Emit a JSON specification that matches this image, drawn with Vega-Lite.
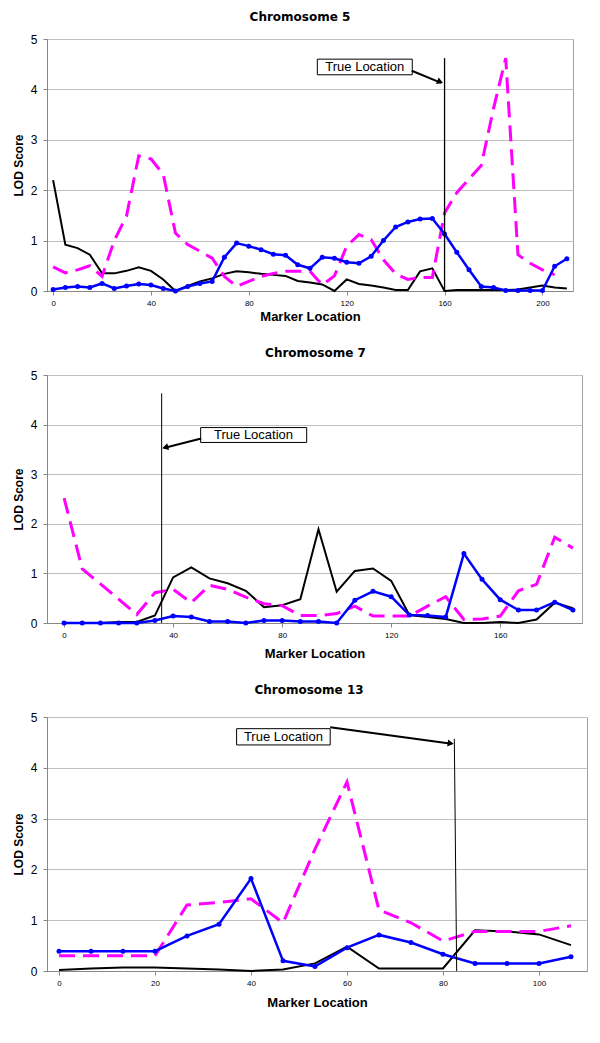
{
  "$schema": "https://vega.github.io/schema/vega-lite/v6.json",
  "padding": {"left": 11, "top": 10, "right": 5, "bottom": 5},
  "background": "white",
  "spacing": 22,
  "datasets": {
    "c5": [
      {"x":0,"s":"k","lod":2.2},{"x":5,"s":"k","lod":0.92},{"x":10,"s":"k","lod":0.85},{"x":15,"s":"k","lod":0.72},{"x":20,"s":"k","lod":0.35},{"x":25,"s":"k","lod":0.35},{"x":30,"s":"k","lod":0.4},{"x":35,"s":"k","lod":0.47},{"x":40,"s":"k","lod":0.4},{"x":45,"s":"k","lod":0.23},{"x":50,"s":"k","lod":0.0},{"x":55,"s":"k","lod":0.1},{"x":60,"s":"k","lod":0.19},{"x":65,"s":"k","lod":0.25},{"x":70,"s":"k","lod":0.34},{"x":75,"s":"k","lod":0.39},{"x":80,"s":"k","lod":0.37},{"x":85,"s":"k","lod":0.34},{"x":90,"s":"k","lod":0.32},{"x":95,"s":"k","lod":0.3},{"x":100,"s":"k","lod":0.2},{"x":105,"s":"k","lod":0.17},{"x":110,"s":"k","lod":0.13},{"x":115,"s":"k","lod":0.0},{"x":120,"s":"k","lod":0.23},{"x":125,"s":"k","lod":0.14},{"x":130,"s":"k","lod":0.11},{"x":135,"s":"k","lod":0.07},{"x":140,"s":"k","lod":0.02},{"x":145,"s":"k","lod":0.02},{"x":150,"s":"k","lod":0.39},{"x":155,"s":"k","lod":0.45},{"x":160,"s":"k","lod":0.0},{"x":165,"s":"k","lod":0.02},{"x":170,"s":"k","lod":0.02},{"x":175,"s":"k","lod":0.02},{"x":180,"s":"k","lod":0.02},{"x":185,"s":"k","lod":0.02},{"x":190,"s":"k","lod":0.03},{"x":195,"s":"k","lod":0.07},{"x":200,"s":"k","lod":0.11},{"x":205,"s":"k","lod":0.07},{"x":210,"s":"k","lod":0.05},
      {"x":0,"s":"m","lod":0.48},{"x":5,"s":"m","lod":0.36},{"x":10,"s":"m","lod":0.42},{"x":15,"s":"m","lod":0.5},{"x":20,"s":"m","lod":0.29},{"x":25,"s":"m","lod":1.0},{"x":30,"s":"m","lod":1.49},{"x":35,"s":"m","lod":2.68},{"x":40,"s":"m","lod":2.62},{"x":45,"s":"m","lod":2.32},{"x":50,"s":"m","lod":1.15},{"x":55,"s":"m","lod":0.92},{"x":60,"s":"m","lod":0.79},{"x":65,"s":"m","lod":0.65},{"x":70,"s":"m","lod":0.29},{"x":75,"s":"m","lod":0.09},{"x":80,"s":"m","lod":0.19},{"x":85,"s":"m","lod":0.29},{"x":90,"s":"m","lod":0.35},{"x":95,"s":"m","lod":0.39},{"x":100,"s":"m","lod":0.39},{"x":105,"s":"m","lod":0.39},{"x":110,"s":"m","lod":0.12},{"x":115,"s":"m","lod":0.3},{"x":120,"s":"m","lod":0.89},{"x":125,"s":"m","lod":1.12},{"x":130,"s":"m","lod":1.02},{"x":135,"s":"m","lod":0.62},{"x":140,"s":"m","lod":0.34},{"x":145,"s":"m","lod":0.23},{"x":150,"s":"m","lod":0.27},{"x":155,"s":"m","lod":0.27},{"x":160,"s":"m","lod":1.55},{"x":165,"s":"m","lod":1.95},{"x":170,"s":"m","lod":2.22},{"x":175,"s":"m","lod":2.49},{"x":180,"s":"m","lod":3.62},{"x":185,"s":"m","lod":4.62},{"x":190,"s":"m","lod":0.72},{"x":195,"s":"m","lod":0.55},{"x":200,"s":"m","lod":0.42},{"x":205,"s":"m","lod":0.32},
      {"x":0,"s":"b","lod":0.03},{"x":5,"s":"b","lod":0.07},{"x":10,"s":"b","lod":0.09},{"x":15,"s":"b","lod":0.07},{"x":20,"s":"b","lod":0.15},{"x":25,"s":"b","lod":0.05},{"x":30,"s":"b","lod":0.1},{"x":35,"s":"b","lod":0.14},{"x":40,"s":"b","lod":0.12},{"x":45,"s":"b","lod":0.05},{"x":50,"s":"b","lod":0.0},{"x":55,"s":"b","lod":0.09},{"x":60,"s":"b","lod":0.15},{"x":65,"s":"b","lod":0.19},{"x":70,"s":"b","lod":0.67},{"x":75,"s":"b","lod":0.95},{"x":80,"s":"b","lod":0.89},{"x":85,"s":"b","lod":0.82},{"x":90,"s":"b","lod":0.73},{"x":95,"s":"b","lod":0.71},{"x":100,"s":"b","lod":0.52},{"x":105,"s":"b","lod":0.45},{"x":110,"s":"b","lod":0.67},{"x":115,"s":"b","lod":0.65},{"x":120,"s":"b","lod":0.57},{"x":125,"s":"b","lod":0.55},{"x":130,"s":"b","lod":0.69},{"x":135,"s":"b","lod":1.0},{"x":140,"s":"b","lod":1.27},{"x":145,"s":"b","lod":1.37},{"x":150,"s":"b","lod":1.43},{"x":155,"s":"b","lod":1.44},{"x":160,"s":"b","lod":1.13},{"x":165,"s":"b","lod":0.77},{"x":170,"s":"b","lod":0.42},{"x":175,"s":"b","lod":0.09},{"x":180,"s":"b","lod":0.07},{"x":185,"s":"b","lod":0.01},{"x":190,"s":"b","lod":0.01},{"x":195,"s":"b","lod":0.01},{"x":200,"s":"b","lod":0.01},{"x":205,"s":"b","lod":0.49},{"x":210,"s":"b","lod":0.64}
    ],
    "c7": [
      {"x":0,"s":"k","lod":0},{"x":6.67,"s":"k","lod":0},{"x":13.33,"s":"k","lod":0},{"x":20,"s":"k","lod":0.02},{"x":26.67,"s":"k","lod":0.02},{"x":33.33,"s":"k","lod":0.15},{"x":40,"s":"k","lod":0.92},{"x":46.67,"s":"k","lod":1.12},{"x":53.33,"s":"k","lod":0.9},{"x":60,"s":"k","lod":0.8},{"x":66.67,"s":"k","lod":0.65},{"x":73.33,"s":"k","lod":0.32},{"x":80,"s":"k","lod":0.36},{"x":86.67,"s":"k","lod":0.48},{"x":93.33,"s":"k","lod":1.89},{"x":100,"s":"k","lod":0.63},{"x":106.67,"s":"k","lod":1.05},{"x":113.33,"s":"k","lod":1.1},{"x":120,"s":"k","lod":0.85},{"x":126.67,"s":"k","lod":0.16},{"x":133.33,"s":"k","lod":0.12},{"x":140,"s":"k","lod":0.08},{"x":146.67,"s":"k","lod":0},{"x":153.33,"s":"k","lod":0},{"x":160,"s":"k","lod":0.02},{"x":166.67,"s":"k","lod":0},{"x":173.33,"s":"k","lod":0.07},{"x":180,"s":"k","lod":0.41},{"x":186.67,"s":"k","lod":0.3},
      {"x":0,"s":"m","lod":2.52},{"x":6.67,"s":"m","lod":1.09},{"x":13.33,"s":"m","lod":0.79},{"x":20,"s":"m","lod":0.48},{"x":26.67,"s":"m","lod":0.17},{"x":33.33,"s":"m","lod":0.61},{"x":40,"s":"m","lod":0.68},{"x":46.67,"s":"m","lod":0.41},{"x":53.33,"s":"m","lod":0.76},{"x":60,"s":"m","lod":0.68},{"x":66.67,"s":"m","lod":0.52},{"x":73.33,"s":"m","lod":0.39},{"x":80,"s":"m","lod":0.35},{"x":86.67,"s":"m","lod":0.15},{"x":93.33,"s":"m","lod":0.15},{"x":100,"s":"m","lod":0.19},{"x":106.67,"s":"m","lod":0.34},{"x":113.33,"s":"m","lod":0.14},{"x":120,"s":"m","lod":0.14},{"x":126.67,"s":"m","lod":0.14},{"x":133.33,"s":"m","lod":0.34},{"x":140,"s":"m","lod":0.53},{"x":146.67,"s":"m","lod":0.07},{"x":153.33,"s":"m","lod":0.08},{"x":160,"s":"m","lod":0.14},{"x":166.67,"s":"m","lod":0.65},{"x":173.33,"s":"m","lod":0.78},{"x":180,"s":"m","lod":1.73},{"x":186.67,"s":"m","lod":1.51},
      {"x":0,"s":"b","lod":0},{"x":6.67,"s":"b","lod":0},{"x":13.33,"s":"b","lod":0},{"x":20,"s":"b","lod":0},{"x":26.67,"s":"b","lod":0},{"x":33.33,"s":"b","lod":0.05},{"x":40,"s":"b","lod":0.14},{"x":46.67,"s":"b","lod":0.12},{"x":53.33,"s":"b","lod":0.03},{"x":60,"s":"b","lod":0.03},{"x":66.67,"s":"b","lod":0},{"x":73.33,"s":"b","lod":0.05},{"x":80,"s":"b","lod":0.05},{"x":86.67,"s":"b","lod":0.03},{"x":93.33,"s":"b","lod":0.03},{"x":100,"s":"b","lod":0},{"x":106.67,"s":"b","lod":0.46},{"x":113.33,"s":"b","lod":0.64},{"x":120,"s":"b","lod":0.53},{"x":126.67,"s":"b","lod":0.16},{"x":133.33,"s":"b","lod":0.15},{"x":140,"s":"b","lod":0.12},{"x":146.67,"s":"b","lod":1.4},{"x":153.33,"s":"b","lod":0.88},{"x":160,"s":"b","lod":0.47},{"x":166.67,"s":"b","lod":0.26},{"x":173.33,"s":"b","lod":0.26},{"x":180,"s":"b","lod":0.42},{"x":186.67,"s":"b","lod":0.26}
    ],
    "c13": [
      {"x":0,"s":"k","lod":0.02},{"x":6.67,"s":"k","lod":0.05},{"x":13.33,"s":"k","lod":0.07},{"x":20,"s":"k","lod":0.07},{"x":26.67,"s":"k","lod":0.05},{"x":33.33,"s":"k","lod":0.03},{"x":40,"s":"k","lod":0.0},{"x":46.67,"s":"k","lod":0.03},{"x":53.33,"s":"k","lod":0.15},{"x":60,"s":"k","lod":0.48},{"x":66.67,"s":"k","lod":0.05},{"x":73.33,"s":"k","lod":0.05},{"x":80,"s":"k","lod":0.05},{"x":86.67,"s":"k","lod":0.8},{"x":93.33,"s":"k","lod":0.78},{"x":100,"s":"k","lod":0.72},{"x":106.67,"s":"k","lod":0.51},
      {"x":0,"s":"m","lod":0.3},{"x":6.67,"s":"m","lod":0.3},{"x":13.33,"s":"m","lod":0.3},{"x":20,"s":"m","lod":0.3},{"x":26.67,"s":"m","lod":1.3},{"x":33.33,"s":"m","lod":1.35},{"x":40,"s":"m","lod":1.42},{"x":46.67,"s":"m","lod":0.95},{"x":53.33,"s":"m","lod":2.4},{"x":60,"s":"m","lod":3.72},{"x":66.67,"s":"m","lod":1.2},{"x":73.33,"s":"m","lod":0.95},{"x":80,"s":"m","lod":0.59},{"x":86.67,"s":"m","lod":0.78},{"x":93.33,"s":"m","lod":0.78},{"x":100,"s":"m","lod":0.78},{"x":106.67,"s":"m","lod":0.89},
      {"x":0,"s":"b","lod":0.39},{"x":6.67,"s":"b","lod":0.39},{"x":13.33,"s":"b","lod":0.39},{"x":20,"s":"b","lod":0.39},{"x":26.67,"s":"b","lod":0.69},{"x":33.33,"s":"b","lod":0.92},{"x":40,"s":"b","lod":1.82},{"x":46.67,"s":"b","lod":0.2},{"x":53.33,"s":"b","lod":0.09},{"x":60,"s":"b","lod":0.46},{"x":66.67,"s":"b","lod":0.71},{"x":73.33,"s":"b","lod":0.56},{"x":80,"s":"b","lod":0.33},{"x":86.67,"s":"b","lod":0.15},{"x":93.33,"s":"b","lod":0.15},{"x":100,"s":"b","lod":0.15},{"x":106.67,"s":"b","lod":0.28}
    ],
    "one": [{"id": 1}]
  },
  "vconcat": [
    {
      "width": 526, "height": 252,
      "title": {"text": "Chromosome 5", "offset": 9, "dx": -10},
      "layer": [
        {"data": {"name": "c5"}, "transform": [{"filter": "datum.s == 'k'"}], "mark": {"type": "line", "color": "#000000", "strokeWidth": 2},
         "encoding": {
          "x": {"field": "x", "type": "quantitative", "scale": {"domain": [-2.5, 212.5], "nice": false, "zero": false}, "axis": {"values": [0, 40, 80, 120, 160, 200], "title": "Marker Location", "titlePadding": 3}},
          "y": {"field": "lod", "type": "quantitative", "scale": {"domain": [0, 5], "nice": false}, "axis": {"values": [0, 1, 2, 3, 4, 5], "title": "LOD Score", "titlePadding": 5}}}},
        {"data": {"name": "c5"}, "transform": [{"filter": "datum.s == 'm'"}], "mark": {"type": "line", "color": "#ff00ff", "strokeWidth": 3, "strokeDash": [16, 8]},
         "encoding": {"x": {"field": "x", "type": "quantitative"}, "y": {"field": "lod", "type": "quantitative"}}},
        {"data": {"name": "c5"}, "transform": [{"filter": "datum.s == 'b'"}], "mark": {"type": "line", "color": "#0000ff", "strokeWidth": 2.5},
         "encoding": {"x": {"field": "x", "type": "quantitative"}, "y": {"field": "lod", "type": "quantitative"}}},
        {"data": {"name": "c5"}, "transform": [{"filter": "datum.s == 'b'"}], "mark": {"type": "point", "filled": true, "color": "#0000ff", "size": 25, "opacity": 1},
         "encoding": {"x": {"field": "x", "type": "quantitative"}, "y": {"field": "lod", "type": "quantitative"}}},
        {"data": {"name": "one"}, "mark": {"type": "rule", "color": "#000000", "strokeWidth": 1.3}, "encoding": {"x": {"datum": 160, "type": "quantitative"}, "y": {"datum": 0, "type": "quantitative"}, "y2": {"datum": 4.62}}},
        {"data": {"name": "one"}, "mark": {"type": "rect", "fill": "white", "stroke": "#000000", "strokeWidth": 1}, "encoding": {"x": {"datum": 108, "type": "quantitative"}, "x2": {"datum": 146.8}, "y": {"datum": 4.29, "type": "quantitative"}, "y2": {"datum": 4.6}}},
        {"data": {"name": "one"}, "mark": {"type": "text", "text": "True Location", "fontSize": 13, "font": "Liberation Sans", "align": "center", "baseline": "middle", "color": "#000000"}, "encoding": {"x": {"datum": 127.4, "type": "quantitative"}, "y": {"datum": 4.445, "type": "quantitative"}}},
        {"data": {"name": "one"}, "mark": {"type": "rule", "color": "#000000", "strokeWidth": 2}, "encoding": {"x": {"datum": 146.6, "type": "quantitative"}, "y": {"datum": 4.37, "type": "quantitative"}, "x2": {"datum": 158.6}, "y2": {"datum": 4.13}}},
        {"data": {"name": "one"}, "mark": {"type": "point", "shape": "triangle-right", "angle": 23, "filled": true, "color": "#000000", "size": 50, "opacity": 1}, "encoding": {"x": {"datum": 158.2, "type": "quantitative"}, "y": {"datum": 4.15, "type": "quantitative"}}}
      ]
    },
    {
      "width": 535, "height": 248,
      "title": {"text": "Chromosome 7", "offset": 9, "dx": 1},
      "layer": [
        {"data": {"name": "c7"}, "transform": [{"filter": "datum.s == 'k'"}], "mark": {"type": "line", "color": "#000000", "strokeWidth": 2},
         "encoding": {
          "x": {"field": "x", "type": "quantitative", "scale": {"domain": [-6.267, 190], "nice": false, "zero": false}, "axis": {"values": [0, 40, 80, 120, 160], "title": "Marker Location", "titlePadding": 8}},
          "y": {"field": "lod", "type": "quantitative", "scale": {"domain": [0, 5], "nice": false}, "axis": {"values": [0, 1, 2, 3, 4, 5], "title": "LOD Score", "titlePadding": 5}}}},
        {"data": {"name": "c7"}, "transform": [{"filter": "datum.s == 'm'"}], "mark": {"type": "line", "color": "#ff00ff", "strokeWidth": 3, "strokeDash": [16, 8]},
         "encoding": {"x": {"field": "x", "type": "quantitative"}, "y": {"field": "lod", "type": "quantitative"}}},
        {"data": {"name": "c7"}, "transform": [{"filter": "datum.s == 'b'"}], "mark": {"type": "line", "color": "#0000ff", "strokeWidth": 2.5},
         "encoding": {"x": {"field": "x", "type": "quantitative"}, "y": {"field": "lod", "type": "quantitative"}}},
        {"data": {"name": "c7"}, "transform": [{"filter": "datum.s == 'b'"}], "mark": {"type": "point", "filled": true, "color": "#0000ff", "size": 25, "opacity": 1},
         "encoding": {"x": {"field": "x", "type": "quantitative"}, "y": {"field": "lod", "type": "quantitative"}}},
        {"data": {"name": "one"}, "mark": {"type": "rule", "color": "#000000", "strokeWidth": 1}, "encoding": {"x": {"datum": 35.8, "type": "quantitative"}, "y": {"datum": 0, "type": "quantitative"}, "y2": {"datum": 4.63}}},
        {"data": {"name": "one"}, "mark": {"type": "rect", "fill": "white", "stroke": "#000000", "strokeWidth": 1}, "encoding": {"x": {"datum": 50.1, "type": "quantitative"}, "x2": {"datum": 89}, "y": {"datum": 3.64, "type": "quantitative"}, "y2": {"datum": 3.94}}},
        {"data": {"name": "one"}, "mark": {"type": "text", "text": "True Location", "fontSize": 13, "font": "Liberation Sans", "align": "center", "baseline": "middle", "color": "#000000"}, "encoding": {"x": {"datum": 69.5, "type": "quantitative"}, "y": {"datum": 3.79, "type": "quantitative"}}},
        {"data": {"name": "one"}, "mark": {"type": "rule", "color": "#000000", "strokeWidth": 2}, "encoding": {"x": {"datum": 50.3, "type": "quantitative"}, "y": {"datum": 3.72, "type": "quantitative"}, "x2": {"datum": 36.6}, "y2": {"datum": 3.53}}},
        {"data": {"name": "one"}, "mark": {"type": "point", "shape": "triangle-right", "angle": 165, "filled": true, "color": "#000000", "size": 50, "opacity": 1}, "encoding": {"x": {"datum": 37.1, "type": "quantitative"}, "y": {"datum": 3.54, "type": "quantitative"}}}
      ]
    },
    {
      "width": 540, "height": 254,
      "title": {"text": "Chromosome 13", "offset": 14, "dx": -8},
      "layer": [
        {"data": {"name": "c13"}, "transform": [{"filter": "datum.s == 'k'"}], "mark": {"type": "line", "color": "#000000", "strokeWidth": 2},
         "encoding": {
          "x": {"field": "x", "type": "quantitative", "scale": {"domain": [-2.5, 110], "nice": false, "zero": false}, "axis": {"values": [0, 20, 40, 60, 80, 100], "title": "Marker Location", "titlePadding": 9}},
          "y": {"field": "lod", "type": "quantitative", "scale": {"domain": [0, 5], "nice": false}, "axis": {"values": [0, 1, 2, 3, 4, 5], "title": "LOD Score", "titlePadding": 5}}}},
        {"data": {"name": "c13"}, "transform": [{"filter": "datum.s == 'm'"}], "mark": {"type": "line", "color": "#ff00ff", "strokeWidth": 3, "strokeDash": [16, 8]},
         "encoding": {"x": {"field": "x", "type": "quantitative"}, "y": {"field": "lod", "type": "quantitative"}}},
        {"data": {"name": "c13"}, "transform": [{"filter": "datum.s == 'b'"}], "mark": {"type": "line", "color": "#0000ff", "strokeWidth": 2.5},
         "encoding": {"x": {"field": "x", "type": "quantitative"}, "y": {"field": "lod", "type": "quantitative"}}},
        {"data": {"name": "c13"}, "transform": [{"filter": "datum.s == 'b'"}], "mark": {"type": "point", "filled": true, "color": "#0000ff", "size": 25, "opacity": 1},
         "encoding": {"x": {"field": "x", "type": "quantitative"}, "y": {"field": "lod", "type": "quantitative"}}},
        {"data": {"name": "one"}, "mark": {"type": "rule", "color": "#000000", "strokeWidth": 1}, "encoding": {"x": {"datum": 82.36, "type": "quantitative"}, "y": {"datum": 4.57, "type": "quantitative"}, "x2": {"datum": 82.85}, "y2": {"datum": 0}}},
        {"data": {"name": "one"}, "mark": {"type": "rect", "fill": "white", "stroke": "#000000", "strokeWidth": 1}, "encoding": {"x": {"datum": 37.0, "type": "quantitative"}, "x2": {"datum": 56.5}, "y": {"datum": 4.45, "type": "quantitative"}, "y2": {"datum": 4.77}}},
        {"data": {"name": "one"}, "mark": {"type": "text", "text": "True Location", "fontSize": 13, "font": "Liberation Sans", "align": "center", "baseline": "middle", "color": "#000000"}, "encoding": {"x": {"datum": 46.75, "type": "quantitative"}, "y": {"datum": 4.61, "type": "quantitative"}}},
        {"data": {"name": "one"}, "mark": {"type": "rule", "color": "#000000", "strokeWidth": 2}, "encoding": {"x": {"datum": 56.5, "type": "quantitative"}, "y": {"datum": 4.8, "type": "quantitative"}, "x2": {"datum": 81.8}, "y2": {"datum": 4.475}}},
        {"data": {"name": "one"}, "mark": {"type": "point", "shape": "triangle-right", "angle": 8, "filled": true, "color": "#000000", "size": 50, "opacity": 1}, "encoding": {"x": {"datum": 81.6, "type": "quantitative"}, "y": {"datum": 4.48, "type": "quantitative"}}}
      ]
    }
  ],
  "config": {
    "font": "Liberation Sans",
    "view": {"stroke": "#a0a0a0", "strokeWidth": 1},
    "title": {"font": "DejaVu Sans", "fontSize": 12, "fontWeight": "bold", "anchor": "middle", "frame": "group", "color": "#000000"},
    "axis": {"domainColor": "#888888", "tickColor": "#888888", "labelColor": "#000000", "titleColor": "#000000", "labelFont": "Liberation Sans", "titleFont": "Liberation Sans", "titleFontWeight": "bold"},
    "axisX": {"labelFontSize": 8, "tickSize": 4, "labelPadding": 4, "titleFontSize": 13, "grid": false},
    "axisY": {"labelFontSize": 12, "tickSize": 4, "labelPadding": 6, "titleFontSize": 12, "grid": true, "gridColor": "#c0c0c0", "gridWidth": 1}
  }
}
